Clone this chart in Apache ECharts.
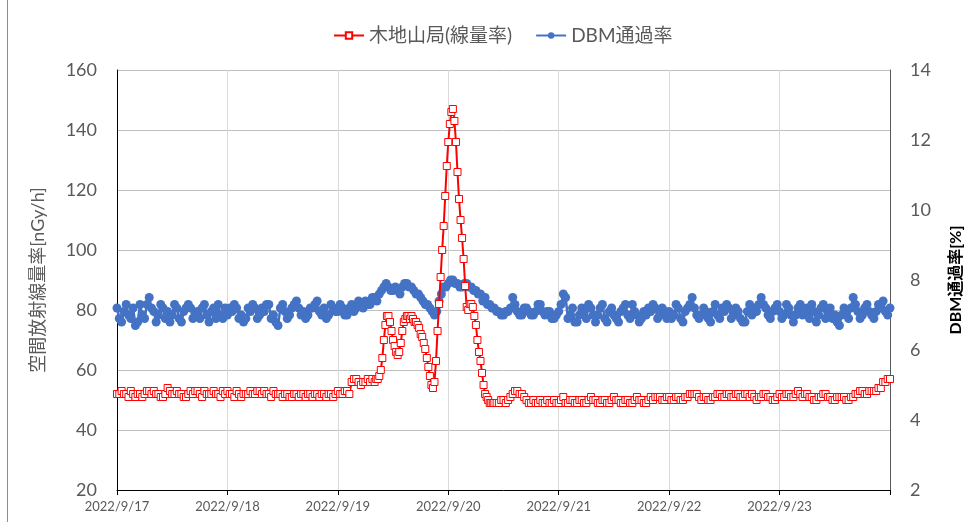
<!DOCTYPE html>
<html><head><meta charset="utf-8">
<script src="https://cdn.jsdelivr.net/npm/echarts@6/dist/echarts.min.js"></script>
<style>html,body{margin:0;padding:0;background:#fff}#c{width:976px;height:522px}</style>
</head><body><div id="c"></div>
<script>
// x-axis tick labels (one per day, at hour offsets 0,24,...)
const dayLabels = ['2022/9/17','2022/9/18','2022/9/19','2022/9/20','2022/9/21','2022/9/22','2022/9/23'];

// Red series: 木地山局(線量率) [nGy/h]
// 30-minute values, hours 0 .. 55.5
const redA = [52,52,53,52,52,51,53,52,51,52,52,51,52,53,53,52,53,52,52,51,51,52,54,53,
  52,52,53,52,52,51,51,52,53,52,53,53,52,51,53,52,52,52,53,52,52,51,53,52,
  53,52,52,51,53,52,51,52,52,52,53,52,52,53,53,52,53,52,52,51,53,52,52,52,
  51,52,52,51,51,52,52,51,52,52,51,52,52,51,52,52,51,52,52,51,52,52,51,52,
  53,52,52,53,53,52,56,57,57,56,55,56,56,57,56,57];
// 20-minute values, hours 56 .. 82
const redFineStart = 56;
const redFine = [56,57,57, 58,60,64, 70,75,78, 78,76,73, 70,68,66, 65,66,69, 73,76,77, 78,78,77,
  78,77,76, 76,75,74, 72,71,69, 67,64,61, 58,55,54, 56,63,73, 82,91,100, 108,118,128,
  136,142,146, 147,143,136, 126,117,110, 104,97,88, 81,80,82, 82,81,78, 75,70,66,
  63,59,55, 52,51,50, 49,49,49, 49];
// 30-minute values, hours 82.5 .. 168
const redBStart = 82.5;
const redB = [49,
  49,50,50,49,50,51,52,53,53,52,52,51,50,49,49,50,49,49,50,49,49,50,49,49,50,49,
  49,50,51,49,49,50,50,49,49,50,50,49,49,50,51,50,50,49,49,50,50,49,49,50,
  51,50,50,49,49,50,50,49,49,50,51,50,50,49,49,50,51,50,51,51,51,50,50,51,
  51,50,50,51,51,50,50,51,51,52,52,52,52,51,50,51,51,50,50,51,51,52,52,51,
  51,52,52,51,51,52,52,51,51,52,52,51,52,51,50,51,51,52,52,51,51,50,50,51,52,51,
  51,52,52,51,51,52,53,52,51,52,52,51,51,50,50,51,51,52,52,51,51,50,50,51,
  51,51,51,50,50,51,51,52,52,53,53,52,52,53,53,53,53,54,54,56,56,57,57,56,
  56];

// Blue series: DBM通過率 [%], 30-minute values, hours 0 .. 168
const blue = [
  7.2,6.9,6.8,7.1,7.3,7.0,6.9,7.2,6.7,6.8,7.3,7.0,6.9,7.3,7.5,7.2,7.1,6.8,7.0,7.3,7.2,6.9,7.1,6.8,
  7.0,7.3,7.2,6.9,6.8,7.1,7.2,7.3,7.2,6.9,7.0,7.1,6.9,7.2,7.3,7.0,6.8,7.1,7.2,6.9,7.3,7.0,6.9,7.2,
  7.0,7.2,7.1,7.3,7.2,6.9,7.0,6.8,6.9,7.2,7.1,7.3,7.2,6.9,7.0,7.2,7.1,7.3,7.3,6.9,7.0,6.8,6.7,7.2,
  7.3,7.1,6.9,7.0,7.2,7.3,7.4,7.2,7.0,7.1,6.9,7.0,7.2,7.2,7.3,7.4,7.1,7.0,7.2,6.9,7.0,7.3,7.2,7.1,
  7.1,7.3,7.2,7.0,7.0,7.2,7.3,7.1,7.2,7.4,7.3,7.2,7.4,7.3,7.3,7.5,7.5,7.4,7.6,7.7,7.8,7.9,7.8,7.7,
  7.7,7.8,7.7,7.6,7.8,7.9,7.9,7.8,7.8,7.7,7.6,7.6,7.5,7.4,7.3,7.3,7.2,7.1,7.0,7.1,7.4,7.6,7.8,7.8,
  7.9,8.0,8.0,7.9,7.9,7.8,7.8,7.9,7.9,7.8,7.8,7.7,7.7,7.6,7.6,7.4,7.5,7.3,7.3,7.2,7.2,7.1,7.1,7.0,
  7.0,7.1,7.1,7.2,7.5,7.3,7.1,7.0,7.0,7.2,7.2,7.1,7.0,7.0,7.1,7.3,7.3,7.1,7.0,7.1,7.1,6.9,6.9,7.0,
  7.1,7.3,7.6,7.5,6.9,7.0,7.2,6.8,6.8,7.0,7.2,7.1,6.9,7.3,7.2,7.0,6.8,7.0,7.2,7.3,6.9,6.8,7.1,7.2,
  7.0,6.9,6.8,7.1,7.2,7.3,7.0,6.9,7.3,7.1,7.0,6.8,6.9,7.1,7.0,7.2,7.1,7.3,7.2,6.9,7.0,7.2,7.1,6.9,
  7.1,6.9,7.0,7.3,7.2,6.9,6.8,7.1,7.2,7.3,7.5,7.2,7.0,6.9,7.0,7.2,7.1,6.9,6.8,7.1,7.3,7.0,6.9,7.2,
  7.1,7.3,7.2,6.9,7.0,7.2,7.1,6.9,6.8,6.8,7.1,7.3,7.0,7.2,7.1,7.3,7.5,7.3,7.2,7.0,6.9,7.1,7.2,7.3,
  7.1,6.9,7.0,7.3,7.2,7.0,6.8,7.0,7.2,7.3,7.0,7.1,7.2,6.9,7.3,7.1,6.8,7.0,7.2,7.3,6.9,7.1,7.2,6.9,
  7.0,6.8,6.7,7.0,7.2,7.1,6.9,7.2,7.5,7.3,7.1,6.9,7.0,7.2,7.3,7.1,7.0,6.9,7.1,7.3,7.2,7.4,7.1,7.0,
  7.2];

const redName = '木地山局(線量率)';
const blueName = 'DBM通過率';

const redData = [];
redA.forEach((v, i) => redData.push([i / 2, v]));
redFine.forEach((v, i) => redData.push([redFineStart + i / 3, v]));
redB.forEach((v, i) => redData.push([redBStart + i / 2, v]));
const blueData = blue.map((v, i) => [i / 2, v]);

const FONT = "Lato, 'Noto Sans CJK JP', sans-serif";
const chart = echarts.init(document.getElementById('c'));
chart.setOption({
  animation: false,
  backgroundColor: '#fff',
  graphic: [{
    type: 'line', shape: {x1: 7.5, y1: 0, x2: 7.5, y2: 522},
    style: {stroke: '#8c8c8c', lineWidth: 1}
  }],
  legend: {
    top: 21, left: 328, itemWidth: 30, itemHeight: 8, itemGap: 23,
    textStyle: {fontSize: 19, color: '#595959', fontFamily: FONT},
    data: [redName, blueName]
  },
  grid: {left: 117, right: 86, top: 70, bottom: 32},
  xAxis: {
    type: 'value', min: 0, max: 168, interval: 24,
    axisLine: {lineStyle: {color: '#000', width: 1}},
    axisTick: {show: true, length: 5, lineStyle: {color: '#000'}},
    splitLine: {show: true, lineStyle: {color: '#d9d9d9'}},
    axisLabel: {
      formatter: v => dayLabels[Math.round(v / 24)] || '',
      fontSize: 13, color: '#595959', fontFamily: FONT, margin: 10
    }
  },
  yAxis: [{
    type: 'value', min: 20, max: 160, interval: 20, position: 'left',
    name: '空間放射線量率[nGy/h]', nameLocation: 'middle', nameGap: 70, nameRotate: 90,
    nameTextStyle: {fontSize: 18, color: '#595959', fontFamily: FONT},
    axisLine: {show: true, lineStyle: {color: '#000'}},
    axisTick: {show: false},
    splitLine: {lineStyle: {color: '#bfbfbf'}},
    axisLabel: {fontSize: 18, color: '#595959', fontFamily: FONT, margin: 20}
  }, {
    type: 'value', min: 2, max: 14, interval: 2, position: 'right',
    name: 'DBM通過率[%]', nameLocation: 'middle', nameGap: 58, nameRotate: 90,
    nameTextStyle: {fontSize: 16, color: '#000', fontWeight: 'bold', fontFamily: FONT},
    axisLine: {show: true, lineStyle: {color: '#595959'}},
    axisTick: {show: false},
    splitLine: {show: false},
    axisLabel: {fontSize: 18, color: '#595959', fontFamily: FONT, margin: 20}
  }],
  series: [{
    name: redName, type: 'line', yAxisIndex: 0, data: redData, z: 4,
    symbol: 'rect', symbolSize: 7, showAllSymbol: true,
    lineStyle: {color: '#ff0000', width: 2},
    itemStyle: {color: '#ffffff', borderColor: '#ff0000', borderWidth: 1}
  }, {
    name: blueName, type: 'line', yAxisIndex: 1, data: blueData, z: 3,
    symbol: 'circle', symbolSize: 9, showAllSymbol: true,
    lineStyle: {color: '#4472c4', width: 2.5},
    itemStyle: {color: '#4472c4'}
  }]
});
</script>
</body></html>
